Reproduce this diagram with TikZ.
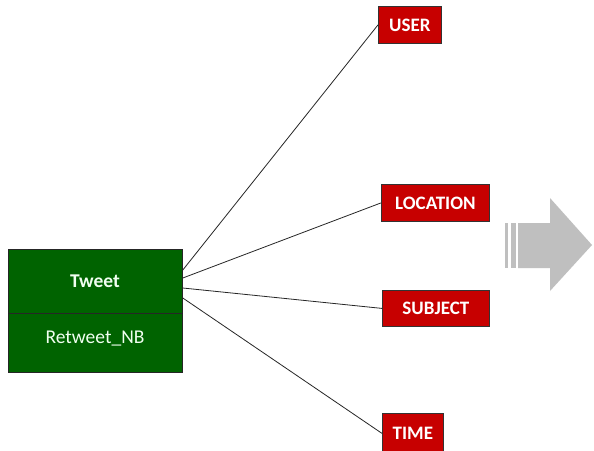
\documentclass[tikz,border=0pt]{standalone}
\usepackage{fontspec}
\setmainfont{Carlito}
\begin{document}
\begin{tikzpicture}[x=1pt,y=-1pt,
  entity/.style={draw=black!85,line width=0.8pt,fill=green!39!black,inner sep=0pt,
    anchor=north west,minimum width=174pt,minimum height=123pt},
  dim/.style={draw=black!80,line width=0.8pt,fill=red!78!black,text=white,inner sep=0pt,
    anchor=north west,font=\fontsize{19}{22}\selectfont\bfseries},
  link/.style={draw=black!85,line width=0.8pt},
  blockarrow/.style={fill=black!25,draw=none}]
\useasboundingbox (0,0) rectangle (594,450);
\fill[white] (0,0) rectangle (594,450);

% fact table: Tweet with its measure
\node[entity] (tweet) at (8,249) {};
\draw[black!85,line width=0.8pt] (tweet.west |- 0,313) -- (tweet.east |- 0,313);
\node[text=green!6,font=\fontsize{19.5}{22}\selectfont\bfseries] (tname) at (95,281) {Tweet};
\node[text=green!6,font=\fontsize{19.5}{22}\selectfont] (tmeasure) at (95,339) {Retweet\_NB};

% dimensions
\node[dim,minimum width=63pt,minimum height=37pt] (user) at (378,6) {USER};
\node[dim,minimum width=108pt,minimum height=37pt] (location) at (381,184) {LOCATION};
\node[dim,minimum width=107pt,minimum height=36pt] (subject) at (382,290) {SUBJECT};
\node[dim,minimum width=61pt,minimum height=40pt] (time) at (382,413) {TIME};

% links from the fact table to each dimension
\draw[link] ([yshift=-21pt]tweet.north east) -- (user.west);
\draw[link] ([yshift=-29pt]tweet.north east) -- (location.west);
\draw[link] ([yshift=-39pt]tweet.north east) -- (subject.west);
\draw[link] ([yshift=-49pt]tweet.north east) -- (time.west);

% grey striped block arrow
\fill[blockarrow] (505,223) rectangle (508,268);
\fill[blockarrow] (511,223) rectangle (516,268);
\fill[blockarrow] (518,223) -- (550,223) -- (550,198) -- (592,245) -- (550,291)
  -- (550,268) -- (518,268) -- cycle;
\end{tikzpicture}
\end{document}
